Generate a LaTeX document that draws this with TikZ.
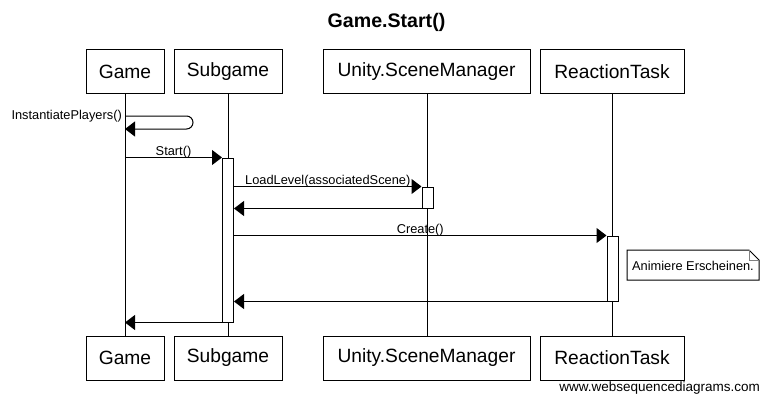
\documentclass[tikz,border=0pt]{standalone}
\usepackage{fontspec}
\setmainfont{Liberation Sans}
\usetikzlibrary{arrows.meta}
\begin{document}
\begin{tikzpicture}[x=1pt,y=-1pt,
  actor/.style={draw, line width=1pt, minimum height=44pt, inner sep=0pt,
    font=\fontsize{19.2}{22}\selectfont},
  actbar/.style={draw, fill=white, line width=1pt, minimum width=11pt, inner sep=0pt},
  life/.style={line width=1pt},
  msg/.style={line width=1pt, -{Triangle[length=10pt,width=15pt]}},
  lbl/.style={font=\fontsize{12.8}{15}\selectfont, anchor=base, yshift=2.5pt, inner sep=0pt},
  notebox/.style={line width=1pt, fill=white}
]
\useasboundingbox (0,0) rectangle (769,404);
\fill[white] (0,0) rectangle (769,404);

% title
\node[font=\bfseries\fontsize{19.6}{22}\selectfont] (title) at (386.5,22) {Game.Start()};

% actor boxes
\node[actor, minimum width=78pt] (gT) at (125,72) {Game};
\node[actor, minimum width=108pt] (sT) at (228,72) {Subgame};
\node[actor, minimum width=207pt] (uT) at (426.5,72) {Unity.SceneManager};
\node[actor, minimum width=144pt] (rT) at (612,72) {ReactionTask};
\node[actor, minimum width=78pt] (gB) at (125,358) {Game};
\node[actor, minimum width=108pt] (sB) at (228,358) {Subgame};
\node[actor, minimum width=207pt] (uB) at (426.5,358) {Unity.SceneManager};
\node[actor, minimum width=144pt] (rB) at (612,358) {ReactionTask};

% lifelines
\draw[life] (gT) -- (gB);
\draw[life] (sT) -- (sB);
\draw[life] ([xshift=1pt]uT.south) -- ([xshift=1pt]uB.north);
\draw[life] (rT) -- (rB);

% self message
\coordinate (ipA) at (125,116);
\coordinate (ipB) at (125,129);
\draw[msg, rounded corners=6.5pt] (ipA) -- ++(68,0) -- ++(0,13) -- (ipB);
\node[font=\fontsize{12.8}{15}\selectfont, anchor=east, inner sep=0pt] (iplbl) at (122,116) {InstantiatePlayers()};

% activations
\node[actbar, minimum height=164pt] (a1) at (228,240) {};
\node[actbar, minimum height=21pt] (a2) at (427.5,197.5) {};
\node[actbar, minimum height=65pt] (a3) at (612.5,268.5) {};

% messages
\draw[msg] (a1.north west -| gT) -- node[lbl]{Start()} (a1.north west);
\draw[msg] (a2.north west -| a1.east) -- node[lbl]{LoadLevel(associatedScene)} (a2.north west);
\draw[msg] (a2.south west) -- (a2.south west -| a1.east);
\draw[msg] (a3.north west -| a1.east) -- node[lbl]{Create()} (a3.north west);
\draw[msg] (a3.south west) -- (a3.south west -| a1.east);
\draw[msg] (a1.south west) -- (a1.south west -| gT);

% note
\draw[notebox] (627,250) -- (749,250) -- (759,260) -- (759,280) -- (627,280) -- cycle;
\draw[line width=1pt, gray] (749,250) -- (749,260) -- (759,260);
\node[font=\fontsize{12.8}{15}\selectfont, inner sep=0pt] (note) at (693,265.5) {Animiere Erscheinen.};

% watermark
\node[font=\fontsize{13.5}{16}\selectfont, anchor=base east, inner sep=0pt] (wm) at (760,391) {www.websequencediagrams.com};
\end{tikzpicture}
\end{document}
